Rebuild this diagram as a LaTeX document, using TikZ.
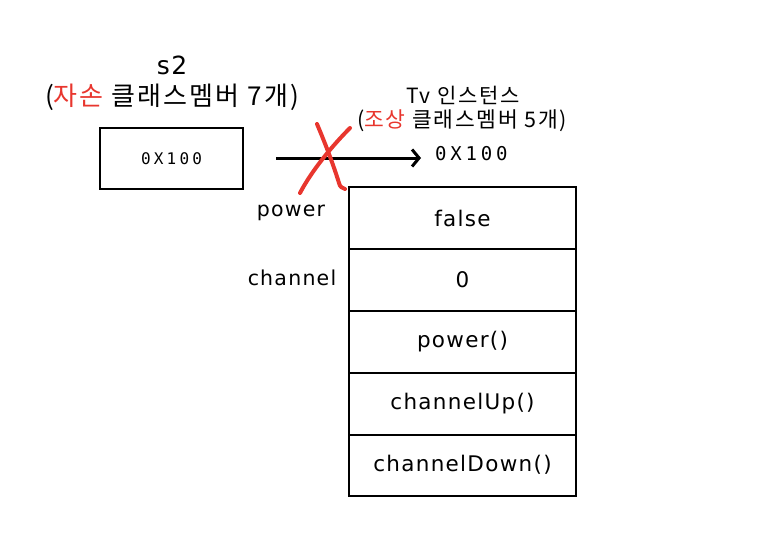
\documentclass[tikz,border=0pt]{standalone}
\usepackage{fontspec}
\setmainfont{DejaVu Sans}[LetterSpace=6]
\newfontfamily\kr{Noto Sans CJK KR}[LetterSpace=8]
\newfontfamily\mono{DejaVu Sans Mono}[LetterSpace=20]
\usetikzlibrary{arrows.meta}
\definecolor{xred}{HTML}{E8362E}
\begin{document}
\begin{tikzpicture}[x=1pt,y=-1pt,
  cell/.style={draw,line width=2pt,minimum width=227pt,minimum height=62pt,inner sep=0pt,font=\fontsize{21.5}{23}\selectfont},
  lbl/.style={inner sep=0pt,font=\fontsize{20.5}{22}\selectfont},
  ptr/.style={line width=3pt,shorten >=14pt,-{Straight Barb[length=7pt,width=17pt,line width=3pt]}},
  cross/.style={xred,line width=4pt,line cap=round}]
\useasboundingbox (0,0) rectangle (768,544);
% left variable
\node[inner sep=0pt,font=\fontsize{25}{27}\selectfont] (s2) at (172,65) {s2};
\node[inner sep=0pt,font=\kr\fontsize{26}{29}\selectfont] (s2sub) at (172,97) {(\textcolor{xred}{자손} 클래스멤버 7개)};
\node[draw,line width=1.5pt,minimum width=143pt,minimum height=61pt,inner sep=0pt,font=\mono\fontsize{16}{18}\selectfont] (box) at (171.5,158.5) {0X100};
% instance titles
\node[inner sep=0pt,font=\kr\fontsize{21}{24}\selectfont] (tv) at (463,95) {Tv 인스턴스};
\node[inner sep=0pt,font=\kr\fontsize{21.5}{24}\selectfont] (tvsub) at (462,121) {(\textcolor{xred}{조상} 클래스멤버 5개)};
\node[inner sep=0pt,anchor=west,font=\mono\fontsize{19}{22}\selectfont] (addr) at (435,154) {0X100};
% table
\node[cell] (c1) at (462.5,218) {false};
\node[cell] (c2) at (462.5,280) {0};
\node[cell] (c3) at (462.5,342) {power()};
\node[cell] (c4) at (462.5,403.5) {channelUp()};
\node[cell,minimum height=61pt] (c5) at (462.5,465) {channelDown()};
% side labels
\node[lbl] (lp) at (291,213) {power};
\node[lbl] (lc) at (292,278) {channel};
% arrow
\coordinate (arrS) at (276,158);
\draw[ptr] (arrS) -- (arrS -| addr.west);
% red cross
\draw[cross] (317,124) .. controls (328,150) and (335,170) .. (339,183) .. controls (340,187) and (342,188) .. (345,189);
\draw[cross] (350,128) .. controls (333,145) and (312,170) .. (300,193);
\end{tikzpicture}
\end{document}
